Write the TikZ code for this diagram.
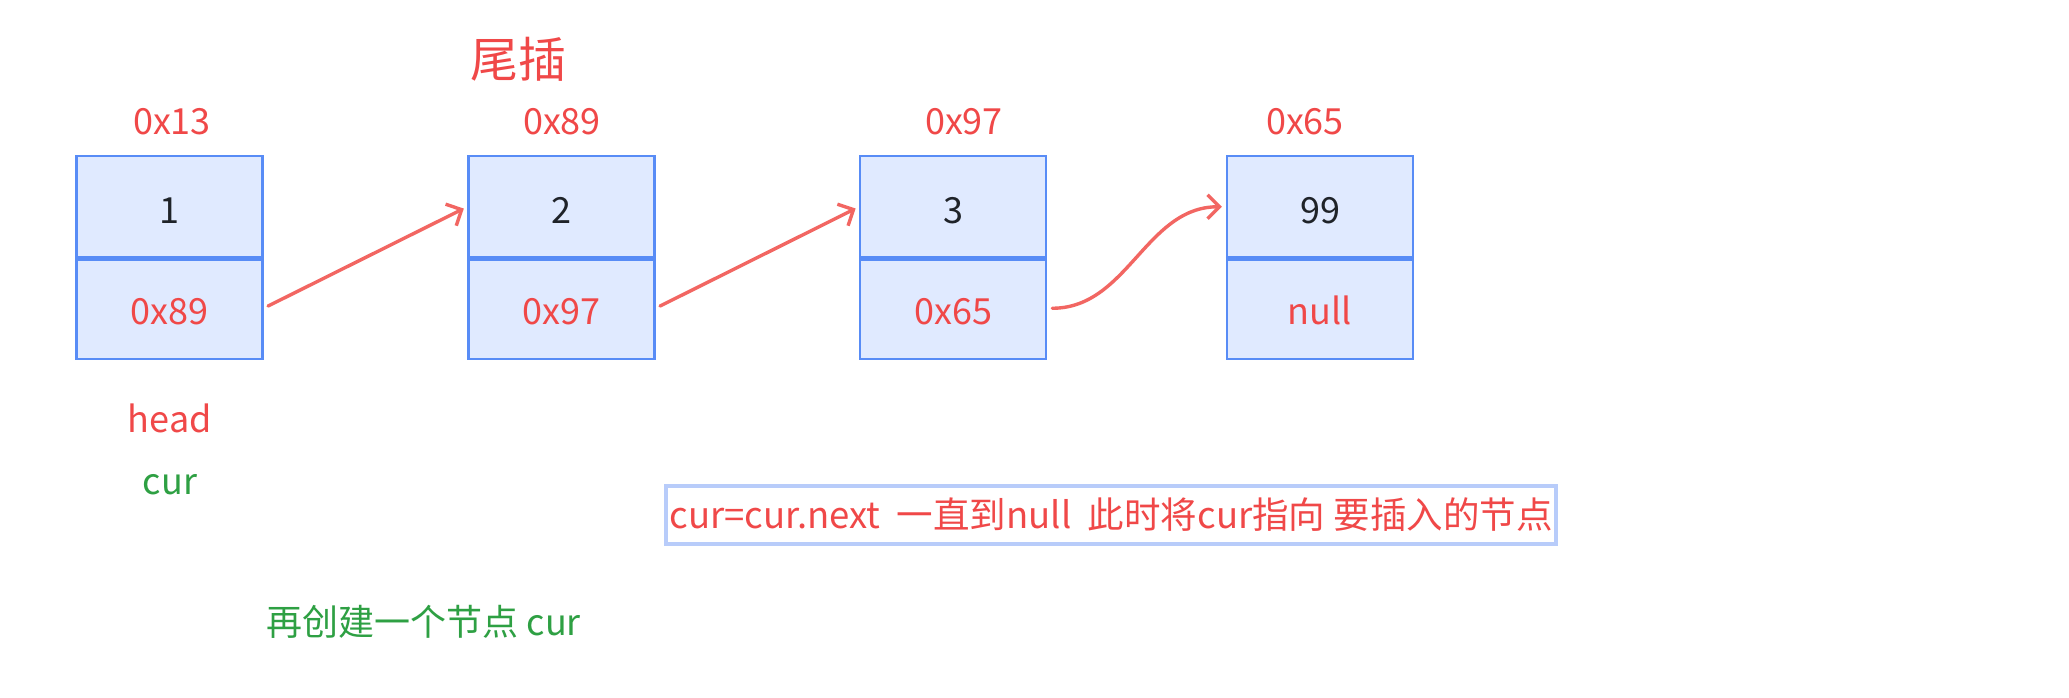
\documentclass[tikz,border=0pt]{standalone}
\usepackage{fontspec}
\setmainfont{Noto Sans CJK SC}
\usetikzlibrary{arrows.meta}
\definecolor{boxfill}{RGB}{224,234,255}
\definecolor{boxline}{RGB}{88,140,246}
\definecolor{txtred}{RGB}{240,72,72}
\definecolor{arrred}{RGB}{242,102,98}
\definecolor{txtgreen}{RGB}{46,160,67}
\definecolor{txtdark}{RGB}{31,35,41}
\definecolor{noteline}{RGB}{184,204,250}
\begin{document}
\begin{tikzpicture}[x=1pt,y=-1pt,
  cell/.style={draw=boxline, line width=2.2pt, fill=boxfill, minimum width=186pt,
    minimum height=101.5pt, inner sep=0pt, text height=33pt, text depth=0pt,
    font=\fontsize{36}{40}\selectfont},
  valcell/.style={cell, text=txtdark},
  ptrcell/.style={cell, text=txtred},
  divider/.style={draw=boxline, line width=4pt},
  addr/.style={text=txtred, inner sep=0pt, font=\fontsize{36}{40}\selectfont},
  greenlbl/.style={text=txtgreen, inner sep=0pt, font=\fontsize{36}{40}\selectfont},
  titlelbl/.style={text=txtred, inner sep=0pt, font=\fontsize{48}{52}\selectfont},
  notebox/.style={draw=noteline, line width=3.5pt, fill=white, text=txtred,
    minimum width=890pt, minimum height=58pt, inner sep=0pt, font=\fontsize{36.5}{40}\selectfont},
  conn/.style={draw=arrred, line width=3.4pt, -{Straight Barb[length=12pt,width=24pt]},
    shorten <=5pt, shorten >=4pt, line cap=round}
]
\useasboundingbox (0,0) rectangle (2069,697);
\fill[white] (0,0) rectangle (2069,697);

% title
\node[titlelbl] (title) at (518,59) {尾插};

% nodes
\node[valcell] (n1a) at (169.5,206.75) {1};
\node[ptrcell] (n1b) at (169.5,308.25) {0x89};
\node[valcell] (n2a) at (561.5,206.75) {2};
\node[ptrcell] (n2b) at (561.5,308.25) {0x97};
\node[valcell] (n3a) at (953.3,206.75) {3};
\node[ptrcell] (n3b) at (953.3,308.25) {0x65};
\node[valcell] (n4a) at (1320,206.75) {99};
\node[ptrcell] (n4b) at (1320,308.25) {null};

\foreach \n in {1,2,3,4}{
  \draw[divider] (n\n a.south west) -- (n\n a.south east);
}

% addresses
\node[addr] (a1) at (172,121.5) {0x13};
\node[addr] (a2) at (562,121.5) {0x89};
\node[addr] (a3) at (964,121.5) {0x97};
\node[addr] (a4) at (1305,121.5) {0x65};

% labels
\node[addr] (head) at (169.7,418) {head};
\node[greenlbl] (cur) at (170,485) {cur};
\node[greenlbl] (create) at (423.7,622) {再创建一个节点 cur};

% note
\node[notebox] (note) at (1111,515) {cur=cur.next\ \ 一直到null\ \ 此时将cur指向 要插入的节点};

% connectors
\draw[conn] (n1b.east) -- (n2a.west);
\draw[conn] (n2b.east) -- (n3a.west);
\draw[conn] (n3b.east) to[out=0,in=180] (n4a.west);
\end{tikzpicture}
\end{document}
